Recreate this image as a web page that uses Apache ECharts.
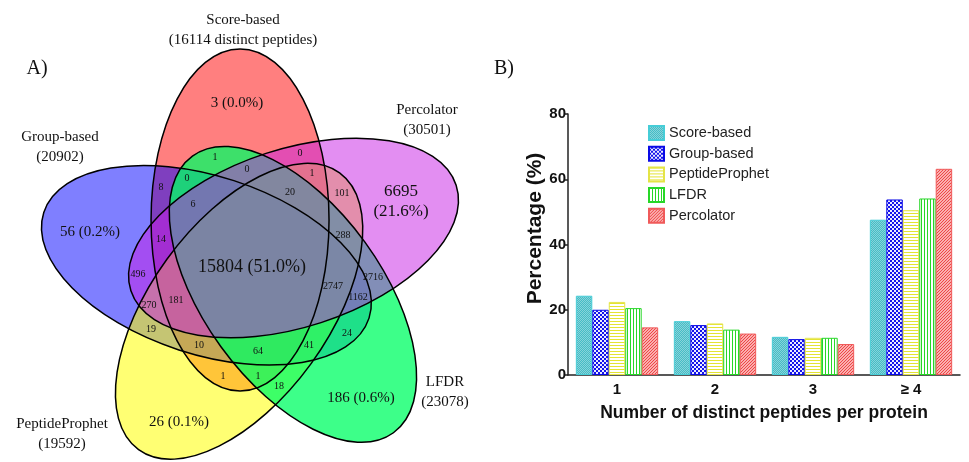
<!DOCTYPE html>
<html>
<head>
<meta charset="utf-8">
<script src="https://cdn.jsdelivr.net/npm/echarts@6/dist/echarts.min.js"></script>
<style>
	html, body { margin: 0; padding: 0; background: #fff; }
	#chart { width: 969px; height: 462px; }
</style>
</head>
<body>
<div id="chart"></div>
<script>
// ---- panel B: distinct peptides per protein (%)
const categories = ['1', '2', '3', '≥ 4']
const methods = ['Score-based', 'Group-based', 'PeptideProphet', 'LFDR', 'Percolator']
const scoreBased = [24.3, 16.5, 11.7, 47.6]
const groupBased = [20.0, 15.3, 11.0, 53.8]
const peptideProphet = [22.4, 15.8, 11.4, 50.5]
const lfdr = [20.5, 13.9, 11.4, 54.1]
const percolator = [14.6, 12.7, 9.5, 63.2]
const yMin = 0
const yMax = 80
const yStep = 20

// ---- panel A: 5-set venn of distinct peptides
const vennSets = ['Score-based', 'Group-based', 'PeptideProphet', 'LFDR', 'Percolator']
const vennTotals = [16114, 20902, 19592, 23078, 30501]
const uniqueCounts = [3, 56, 26, 186, 6695]
const coreCount = 15804
const overlapCounts = [1, 0, 0, 0, 8, 1, 20, 101, 6, 288, 14, 496, 2716, 2747, 1162, 181, 270, 19, 24, 10, 64, 41, 1, 1, 18]

// layout of the venn (pixels), same order as the arrays above
const vennCenter = [254.4, 265.8]
const vennDist = 48
const vennMajor = 171
const vennMinor = 89
const vennStartAngle = 107.4
const vennFills = ['rgba(255,0,0,0.5)', 'rgba(0,0,255,0.5)', 'rgba(255,255,0,0.55)', 'rgba(0,255,100,0.76)', 'rgba(200,30,230,0.5)']
const setLabelPos = [[243, 20], [60, 137], [62, 424], [445, 382], [427, 110]]
const uniquePos = [[237, 103], [90, 232], [179, 422], [361, 398], [401, 202]]
const corePos = [252, 267]
const overlapPos = [
	[215, 157], [300, 153], [187, 178], [247, 169], [161, 187], [312, 173], [290, 192], [342, 193],
	[193, 204], [343, 235], [161, 239], [138, 274], [373, 277], [333, 286], [358, 297], [176, 300],
	[149, 305], [151, 329], [347, 333], [199, 345], [258, 351], [309, 345], [223, 376], [258, 376],
	[279, 386]
]

const serif = '"Liberation Serif", "DejaVu Serif", serif'
const sans = '"Liberation Sans", Arial, sans-serif'

function pattern(w, h, draw) {
	const c = document.createElement('canvas')
	c.width = w
	c.height = h
	draw(c.getContext('2d'))
	return { image: c, repeat: 'repeat' }
}

const fills = [
	pattern(2, 2, ctx => {
		ctx.fillStyle = 'rgb(70,188,198)'; ctx.fillRect(0, 0, 2, 2)
		ctx.fillStyle = 'rgb(135,212,218)'; ctx.fillRect(0, 0, 1, 1); ctx.fillRect(1, 1, 1, 1)
	}),
	pattern(4, 4, ctx => {
		ctx.fillStyle = 'rgb(20,20,235)'; ctx.fillRect(0, 0, 4, 4)
		ctx.fillStyle = 'rgb(235,235,255)'; ctx.fillRect(0, 0, 2, 2); ctx.fillRect(2, 2, 2, 2)
	}),
	pattern(1, 3, ctx => {
		ctx.fillStyle = '#fff'; ctx.fillRect(0, 0, 1, 3)
		ctx.fillStyle = 'rgb(228,228,50)'; ctx.fillRect(0, 0, 1, 1)
	}),
	pattern(3, 1, ctx => {
		ctx.fillStyle = '#fff'; ctx.fillRect(0, 0, 3, 1)
		ctx.fillStyle = 'rgb(40,215,40)'; ctx.fillRect(0, 0, 1, 1)
	}),
	pattern(3, 3, ctx => {
		ctx.fillStyle = 'rgb(250,175,175)'; ctx.fillRect(0, 0, 3, 3)
		ctx.fillStyle = 'rgb(238,70,70)'
		ctx.fillRect(0, 2, 1, 1); ctx.fillRect(1, 1, 1, 1); ctx.fillRect(2, 0, 1, 1)
	})
]
const borders = ['rgb(70,205,215)', 'rgb(10,10,230)', 'rgb(228,228,70)', 'rgb(40,215,40)', 'rgb(240,90,90)']
const seriesValues = [scoreBased, groupBased, peptideProphet, lfdr, percolator]

// venn graphics
const vennTotal = uniqueCounts.reduce((a, b) => a + b, 0) + coreCount + overlapCounts.reduce((a, b) => a + b, 0)
const pct = v => (v / vennTotal * 100).toFixed(1) + '%'

function ellipse(i, fill) {
	const phi = (vennStartAngle + i * 72) * Math.PI / 180
	return {
		type: 'ellipse',
		x: vennCenter[0] + vennDist * Math.cos(phi),
		y: vennCenter[1] - vennDist * Math.sin(phi),
		rotation: (90 + i * 72) * Math.PI / 180,
		shape: { cx: 0, cy: 0, rx: vennMajor, ry: vennMinor },
		style: fill ? { fill: vennFills[i], stroke: null } : { fill: null, stroke: '#000', lineWidth: 1.5 },
		silent: true
	}
}

function label(text, pos, size, lineHeight) {
	return {
		type: 'text',
		x: pos[0],
		y: pos[1],
		silent: true,
		style: {
			text: text,
			font: size + 'px ' + serif,
			fill: '#111',
			align: 'center',
			verticalAlign: 'middle',
			textAlign: 'center',
			textVerticalAlign: 'middle',
			lineHeight: lineHeight || size
		}
	}
}

const graphics = []
vennSets.forEach((s, i) => graphics.push(ellipse(i, true)))
vennSets.forEach((s, i) => graphics.push(ellipse(i, false)))
vennSets.forEach((s, i) => {
	const second = i === 0 ? '(' + vennTotals[i] + ' distinct peptides)' : '(' + vennTotals[i] + ')'
	graphics.push(label(s + '\n' + second, [setLabelPos[i][0], setLabelPos[i][1] + 10], 15, 20))
})
uniqueCounts.forEach((v, i) => {
	const t = i === 4 ? v + '\n(' + pct(v) + ')' : v + ' (' + pct(v) + ')'
	graphics.push(label(t, uniquePos[i], i === 4 ? 17 : 15, 20))
})
graphics.push(label(coreCount + ' (' + pct(coreCount) + ')', corePos, 18))
overlapCounts.forEach((v, i) => graphics.push(label(String(v), overlapPos[i], 10)))
graphics.push(label('A)', [37, 69], 20))
graphics.push(label('B)', [504, 69], 20))

const chart = echarts.init(document.getElementById('chart'), null, { renderer: 'canvas' })
chart.setOption({
	animation: false,
	backgroundColor: '#fff',
	textStyle: { fontFamily: sans },
	graphic: graphics,
	grid: { left: 568, right: 9, top: 114, bottom: 87, containLabel: false },
	legend: {
		data: methods,
		orient: 'vertical',
		left: 648,
		top: 125,
		padding: 0,
		icon: 'rect',
		itemWidth: 15,
		itemHeight: 14,
		itemGap: 4.7,
		textStyle: { fontSize: 14.5, color: '#222', fontFamily: sans }
	},
	xAxis: {
		type: 'category',
		data: categories,
		name: 'Number of distinct peptides per protein',
		nameLocation: 'middle',
		nameGap: 29,
		nameTextStyle: { fontSize: 17.5, fontWeight: 'bold', color: '#111', fontFamily: sans },
		axisLine: { lineStyle: { color: '#222', width: 1.5 } },
		axisTick: { alignWithLabel: true, length: 5, lineStyle: { color: '#222', width: 1.5 } },
		axisLabel: { fontSize: 15, fontWeight: 'bold', color: '#111', margin: 7, fontFamily: sans }
	},
	yAxis: {
		type: 'value',
		min: yMin,
		max: yMax,
		interval: yStep,
		name: 'Percentage (%)',
		nameLocation: 'middle',
		nameGap: 21,
		nameTextStyle: { fontSize: 21, fontWeight: 'bold', color: '#111', fontFamily: sans, padding: [0, 0, 0, 32] },
		axisLine: { show: true, lineStyle: { color: '#222', width: 1.5 } },
		axisTick: { show: true, length: 3, lineStyle: { color: '#222', width: 1.5 } },
		splitLine: { show: false },
		axisLabel: { fontSize: 15, fontWeight: 'bold', color: '#111', margin: 2, fontFamily: sans }
	},
	series: methods.map((m, i) => ({
		name: m,
		type: 'bar',
		data: seriesValues[i],
		barGap: '0%',
		barCategoryGap: '16%',
		itemStyle: { color: fills[i], borderColor: borders[i], borderWidth: 1 }
	}))
})
</script>
</body>
</html>
